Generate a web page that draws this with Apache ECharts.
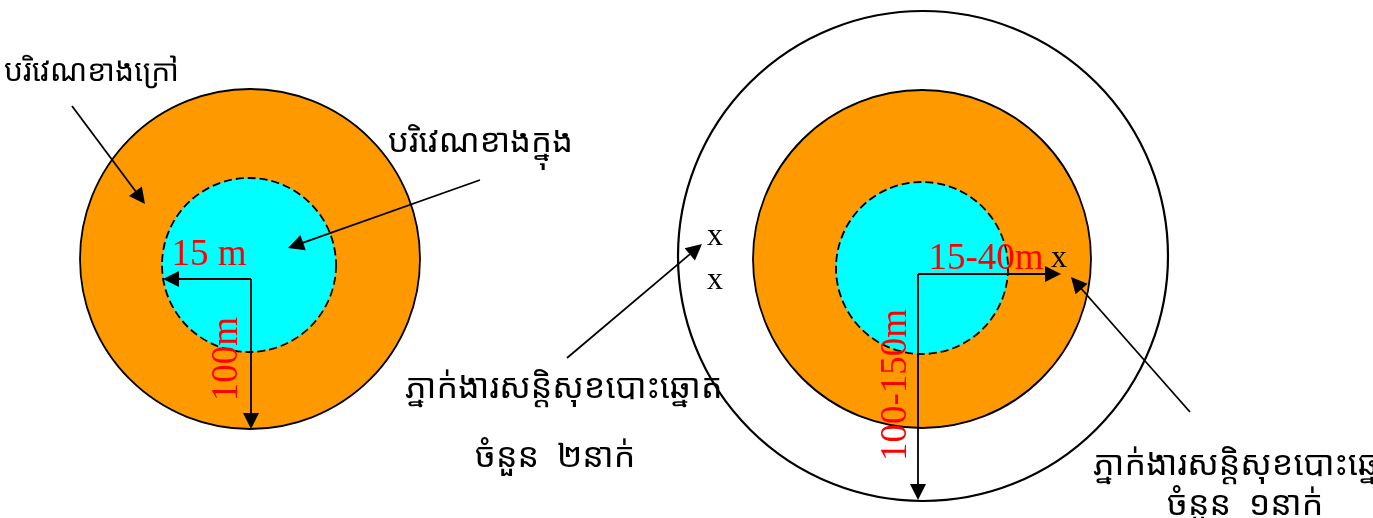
<!DOCTYPE html>
<html>
<head>
<meta charset="utf-8">
<script src="https://cdn.jsdelivr.net/npm/echarts@6/dist/echarts.min.js"></script>
<style>
  html, body { margin: 0; padding: 0; background: #fff; }
  #main { width: 1373px; height: 518px; }
</style>
</head>
<body>
<div id="main"></div>
<script>
// zones: [cx, cy, r] in diagram units (1 unit = 1px of the 1373x518 sheet)
const outerZones = [[250, 259, 170], [922, 259, 169]];
const innerZones = [[249, 265, 87], [922, 268, 86]];
const safetyRings = [[923, 256, 245]];

// arrows: [from, tip]
const arrows = [
  [[251, 279], [163, 279]],
  [[251, 279], [251, 429]],
  [[72, 106], [145, 204]],
  [[480, 180], [288, 248]],
  [[918, 274], [1061, 274]],
  [[918, 274], [918, 500]],
  [[567, 358], [702, 244]],
  [[1190, 412], [1071, 277]]
];

// khmer labels: [x, y, text, align]
const khmerLabels = [
  [4, 72, 'បរិវេណខាងក្រៅ', 'left'],
  [388, 143, 'បរិវេណខាងក្នុង', 'left'],
  [405, 388, 'ភ្នាក់ងារសន្តិសុខបោះឆ្នោត', 'left'],
  [475, 457, 'ចំនួន  ២នាក់', 'left'],
  [1093, 465, 'ភ្នាក់ងារសន្តិសុខបោះឆ្នោត', 'left'],
  [1167, 505, 'ចំនួន  ១នាក់', 'left']
];
const khmerSizes = [30, 33, 34, 34, 34, 34];

// distance labels: [x, y, text, rotated]
const distLabels = [
  [209, 255, '15 m', 0],
  [227, 359, '100m', 1],
  [986, 259, '15-40m', 0],
  [896, 385, '100-150m', 1]
];

// agent marks
const agents = [[1059, 259], [715, 237], [715, 281]];

const khmerFont = '"Noto Sans Khmer", "Khmer OS", "Noto Sans", "DejaVu Sans", sans-serif';
const serifFont = '"Liberation Serif", "DejaVu Serif", serif';
const headLen = 16;

// ECharts centres the end symbol on the last point, so pull the line end back
// by half the head length to put the triangle's tip on the given point.
function pullBack(a) {
  const dx = a[1][0] - a[0][0], dy = a[1][1] - a[0][1];
  const len = Math.sqrt(dx * dx + dy * dy);
  const k = (headLen / 2) / len;
  return [a[0], [a[1][0] - dx * k, a[1][1] - dy * k]];
}

function circleSeries(data, fill, dashed, lw) {
  return {
    type: 'custom',
    data: data,
    silent: true,
    renderItem: function (params, api) {
      const c = api.coord([api.value(0), api.value(1)]);
      const r = api.size([api.value(2), 0])[0];
      return {
        type: 'circle',
        shape: { cx: c[0], cy: c[1], r: r },
        style: {
          fill: fill,
          stroke: '#000',
          lineWidth: lw,
          lineDash: dashed ? [8, 4] : null
        }
      };
    }
  };
}

const chart = echarts.init(document.getElementById('main'), null, { renderer: 'canvas' });
chart.setOption({
  animation: false,
  backgroundColor: '#fff',
  grid: { left: 0, right: 0, top: 0, bottom: 0 },
  xAxis: { type: 'value', min: 0, max: 1373, show: false },
  yAxis: { type: 'value', min: 0, max: 518, inverse: true, show: false },
  series: [
    circleSeries(safetyRings, '#fff', false, 2.2),
    circleSeries(outerZones, '#FF9900', false, 1.8),
    circleSeries(innerZones, '#00FFFF', true, 1.8),
    {
      type: 'lines',
      coordinateSystem: 'cartesian2d',
      silent: true,
      symbol: ['none', 'triangle'],
      symbolSize: [14, headLen],
      lineStyle: { color: '#000', width: 1.8, opacity: 1 },
      data: arrows.map(a => ({ coords: pullBack(a) }))
    },
    {
      type: 'custom',
      silent: true,
      data: distLabels,
      renderItem: function (params, api) {
        const p = api.coord([api.value(0), api.value(1)]);
        const d = distLabels[params.dataIndex];
        return {
          type: 'text',
          x: p[0], y: p[1],
          rotation: d[3] ? Math.PI / 2 : 0,
          style: {
            text: d[2], fill: '#FF0000',
            font: '37px ' + serifFont,
            align: 'center', verticalAlign: 'middle'
          }
        };
      }
    },
    {
      type: 'custom',
      silent: true,
      data: agents,
      renderItem: function (params, api) {
        const p = api.coord([api.value(0), api.value(1)]);
        return {
          type: 'text',
          x: p[0], y: p[1],
          style: {
            text: 'x', fill: '#000',
            font: '32px ' + serifFont,
            align: 'center', verticalAlign: 'middle'
          }
        };
      }
    },
    {
      type: 'custom',
      silent: true,
      data: khmerLabels,
      renderItem: function (params, api) {
        const p = api.coord([api.value(0), api.value(1)]);
        const d = khmerLabels[params.dataIndex];
        return {
          type: 'text',
          x: p[0], y: p[1],
          style: {
            text: d[2], fill: '#000',
            font: khmerSizes[params.dataIndex] + 'px ' + khmerFont,
            align: d[3], verticalAlign: 'middle'
          }
        };
      }
    }
  ]
});
</script>
</body>
</html>
